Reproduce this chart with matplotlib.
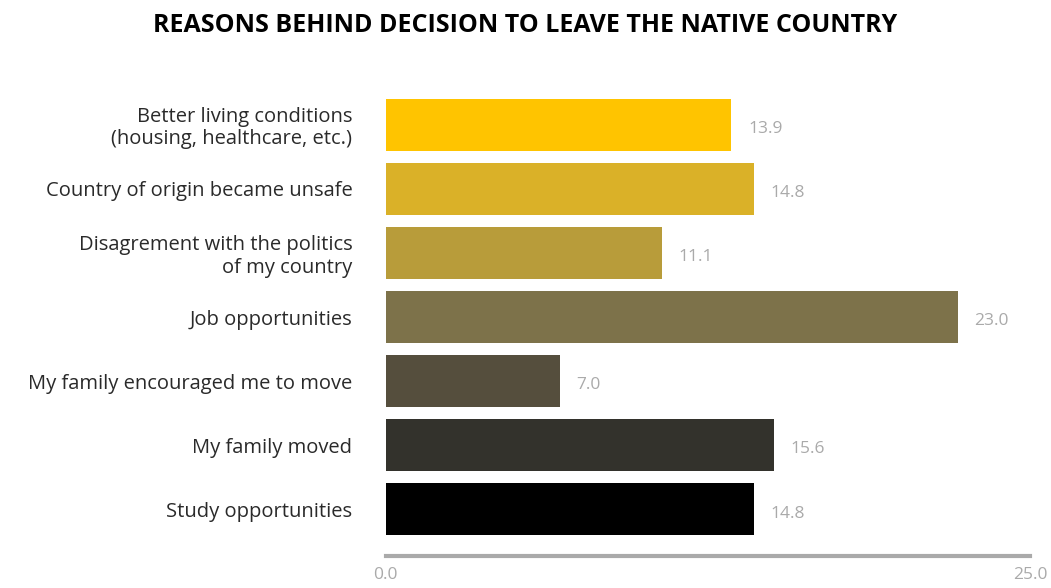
import matplotlib.pyplot as plt

reasons = [
    "Better living conditions\n(housing, healthcare, etc.)",
    "Country of origin became unsafe",
    "Disagrement with the politics\nof my country",
    "Job opportunities",
    "My family encouraged me to move",
    "My family moved",
    "Study opportunities",
]
shares = [13.9, 14.8, 11.1, 23.0, 7.0, 15.6, 14.8]
bar_colors = ["#FFC400", "#DAB128", "#B89C3A", "#7D724A", "#554E3D", "#33322C", "#000000"]

plt.rcParams['font.family'] = ['Open Sans', 'DejaVu Sans']

fig = plt.figure(figsize=(10.51, 5.88), dpi=100)
ax = fig.add_axes([0.367, 0.054, 0.613, 0.783])

pos = list(range(len(reasons)))
ax.barh(pos, shares, height=0.81, color=bar_colors)

for y, v in zip(pos, shares):
    ax.annotate(f"{v:.1f}", (v, y), xytext=(12, -3), textcoords="offset points",
                va="center", ha="left", fontsize=12.5, color="#AAAAAA")

ax.set_xlim(0, 25.9)
ax.set_ylim(6.73, -0.45)
ax.set_yticks(pos)
ax.set_yticklabels(reasons, fontsize=14.5, color="#2A2A2A", linespacing=1.15)
ax.tick_params(axis="y", length=0, pad=24)
ax.set_xticks([0, 25.9])
ax.set_xticklabels(["0.0", "25.0"], fontsize=12.5, color="#AAAAAA")
ax.tick_params(axis="x", length=0, pad=8)
for s in ["top", "right", "left"]:
    ax.spines[s].set_visible(False)
ax.spines["bottom"].set_color("#AAAAAA")
ax.spines["bottom"].set_linewidth(3)

fig.text(0.5, 0.957, "REASONS BEHIND DECISION TO LEAVE THE NATIVE COUNTRY",
         ha="center", va="center", fontsize=18, fontweight="bold", color="#000000")

fig.savefig("out.png", dpi=100)
